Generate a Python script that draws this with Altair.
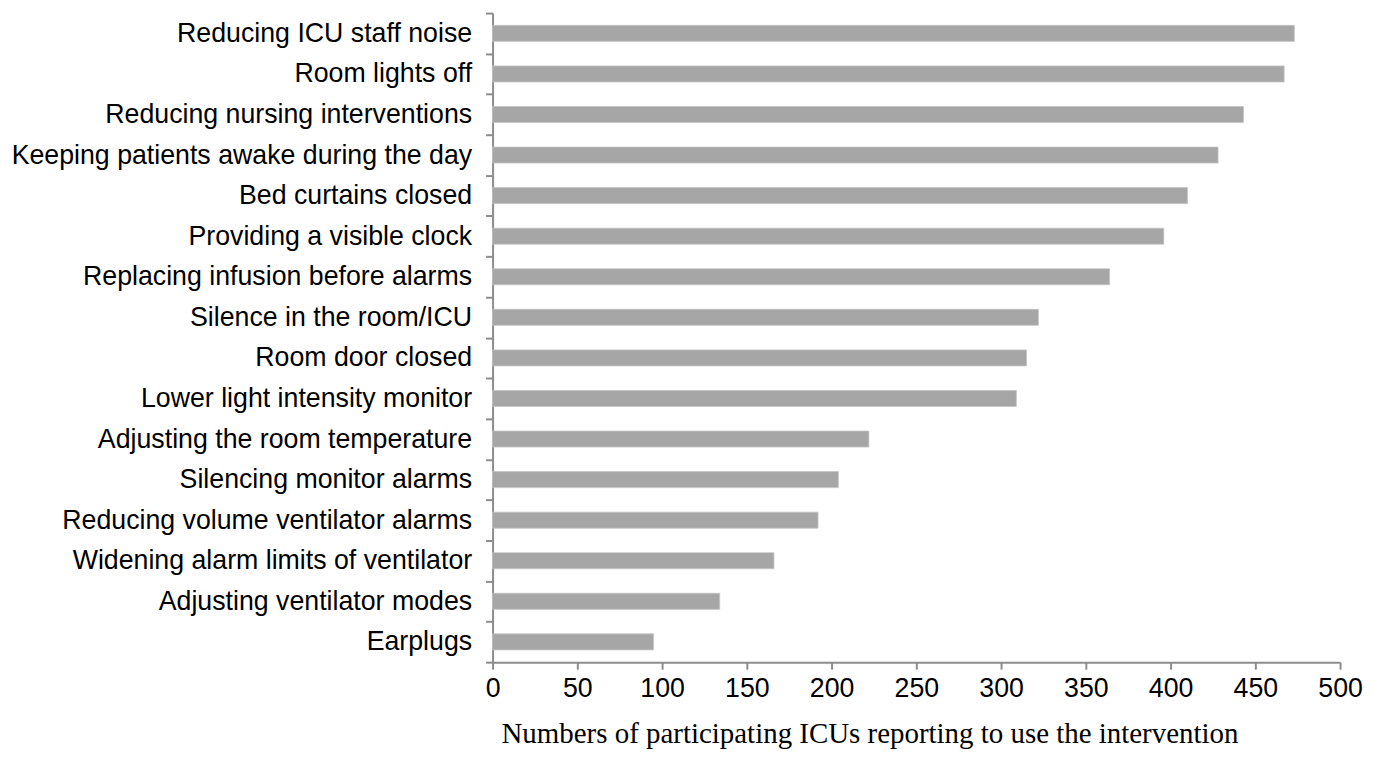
import altair as alt
import pandas as pd

categories = [
    "Reducing ICU staff noise",
    "Room lights off",
    "Reducing nursing interventions\u00a0",
    "Keeping patients awake during the day",
    "Bed curtains closed\u00a0",
    "Providing a visible clock",
    "Replacing infusion before alarms",
    "Silence in the room/ICU",
    "Room door closed",
    "Lower light intensity monitor\u00a0",
    "Adjusting the room temperature\u00a0",
    "Silencing monitor alarms",
    "Reducing volume ventilator alarms",
    "Widening alarm limits of ventilator",
    "Adjusting ventilator modes",
    "Earplugs",
]
values = [473, 467, 443, 428, 410, 396, 364, 322, 315, 309, 222, 204, 192, 166, 134, 95]
x_ticks = [0, 50, 100, 150, 200, 250, 300, 350, 400, 450, 500]

df = pd.DataFrame({"category": categories, "value": values})

chart = (
    alt.Chart(df)
    .mark_bar(color="#a6a6a6", stroke="#c4c4c4", strokeWidth=0.8,
              height=alt.RelativeBandSize(0.395))
    .encode(
        x=alt.X(
            "value:Q",
            scale=alt.Scale(domain=[0, 500], nice=False),
            axis=alt.Axis(
                values=x_ticks,
                grid=False,
                title="Numbers of participating ICUs reporting to use the intervention",
                titleFont="Liberation Serif",
                titleFontSize=29,
                titleFontWeight="normal",
                titleColor="#000000",
                titleX=378,
                titleY=81,
                titleAlign="center",
                titleBaseline="alphabetic",
                labelFont="Liberation Sans",
                labelFontSize=26.8,
                labelColor="#000000",
                labelPadding=6,
                domainColor="#8c8c8c",
                domainWidth=2,
                tickColor="#8c8c8c",
                tickWidth=2,
                tickSize=7,
                labelFlush=False,
            ),
        ),
        y=alt.Y(
            "category:N",
            sort=categories,
            scale=alt.Scale(paddingInner=0, paddingOuter=0),
            axis=alt.Axis(
                title=None,
                labelFont="Liberation Sans",
                labelFontSize=26.8,
                labelColor="#000000",
                labelPadding=14,
                labelLimit=0,
                domainColor="#8c8c8c",
                domainWidth=2,
                tickColor="#8c8c8c",
                tickWidth=2,
                tickSize=7,
                tickBand="extent",
            ),
        ),
    )
    .properties(
        width=850,
        height=651,
        autosize=alt.AutoSizeParams(type="none"),
        padding={"left": 486, "top": 4, "right": 26, "bottom": 86},
    )
    .configure_view(stroke=None)
)

chart.save("out.html", embed_options={"renderer": "svg", "actions": False})
